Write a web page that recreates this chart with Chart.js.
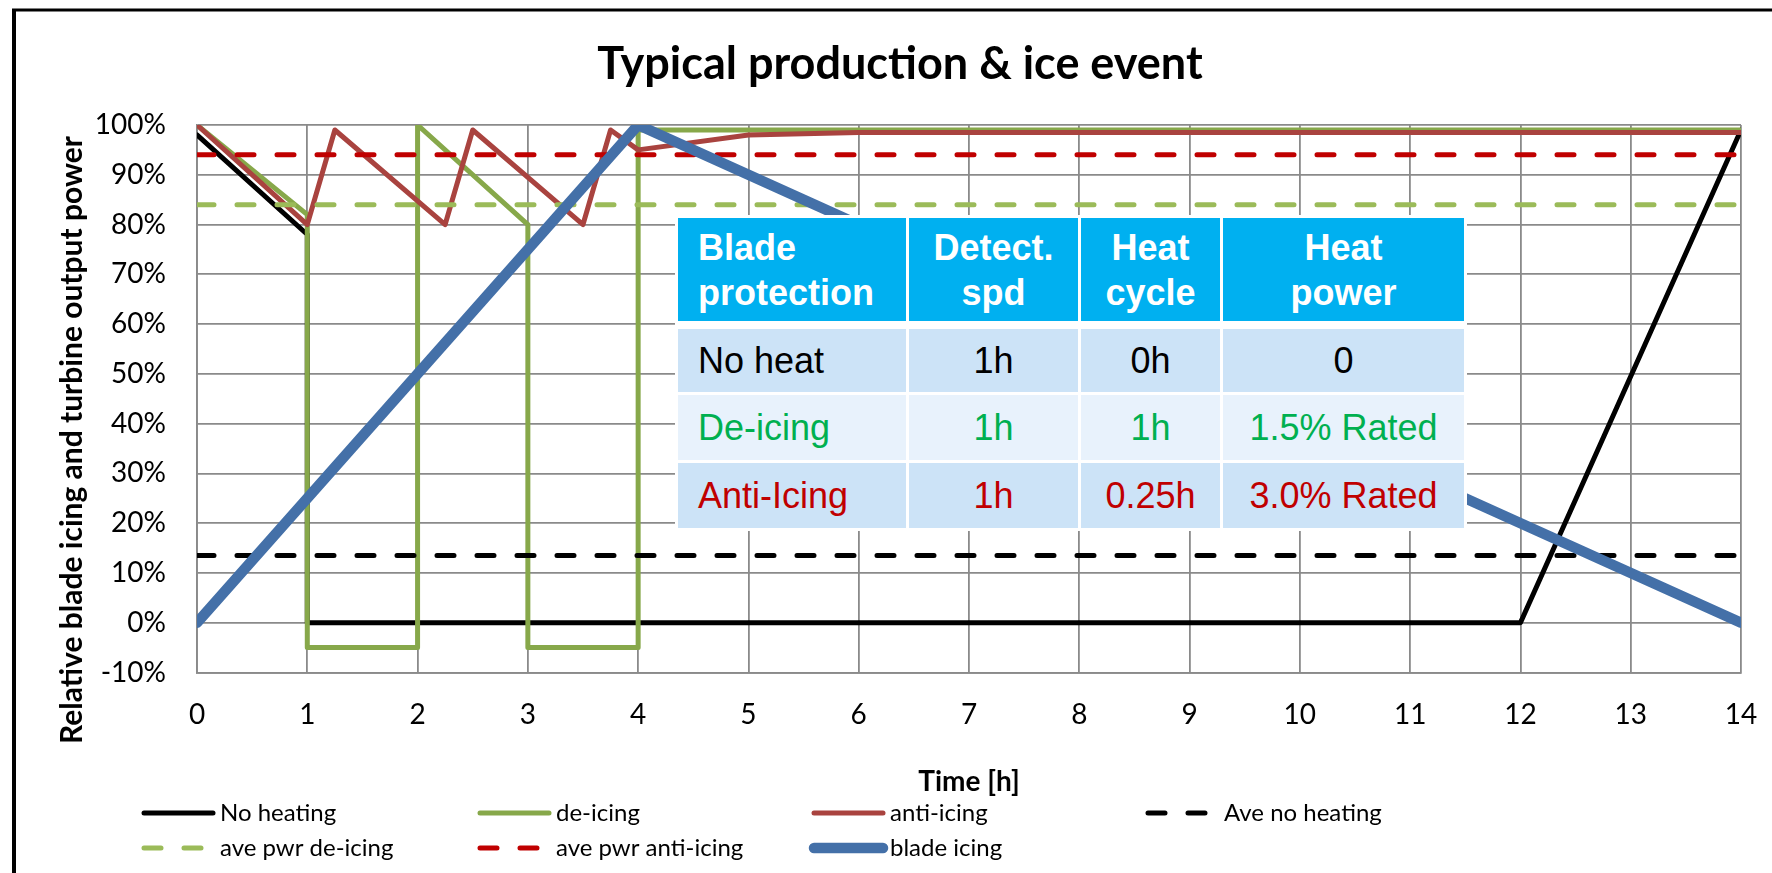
<!DOCTYPE html>
<html>
<head>
<meta charset="utf-8">
<title>Typical production &amp; ice event</title>
<script src="https://cdn.jsdelivr.net/npm/chart.js@4.4.1/dist/chart.umd.min.js"></script>
<style>
  html, body { margin: 0; padding: 0; background: #fff; }
  #wrap { position: relative; width: 1772px; height: 873px; }
  #chart { display: block; }
  .heat-table {
    position: absolute; left: 675px; top: 215px;
    border-collapse: separate; border-spacing: 3px;
    background: #fff;
    font-family: "Liberation Sans", Arial, sans-serif; font-size: 36px;
  }
  .heat-table td { padding: 0; text-align: center; vertical-align: middle; box-sizing: border-box; }
  .heat-table td.first { text-align: left; padding-left: 20px; }
  .heat-table tr.head td { background: #00b0f0; color: #fff; font-weight: bold; height: 103px; line-height: 45px; }
  .heat-table tr.gap td { height: 2px; background: #fff; }
  .heat-table tr.dark td { background: #cce3f7; height: 63px; }
  .heat-table tr.light td { background: #e8f2fc; height: 65px; }
  .heat-table tr.last td { height: 65px; }
  .green { color: #00b050; }
  .red { color: #c00000; }
</style>
</head>
<body>
<div id="wrap">
  <canvas id="chart" width="1772" height="873"></canvas>
  <table class="heat-table">
    <tr class="head">
      <td class="first" style="width:228px">Blade<br>protection</td>
      <td style="width:169px">Detect.<br>spd</td>
      <td style="width:139px">Heat<br>cycle</td>
      <td style="width:241px">Heat<br>power</td>
    </tr>
    <tr class="gap"><td></td><td></td><td></td><td></td></tr>
    <tr class="dark">
      <td class="first">No heat</td><td>1h</td><td>0h</td><td>0</td>
    </tr>
    <tr class="light green">
      <td class="first">De-icing</td><td>1h</td><td>1h</td><td>1.5% Rated</td>
    </tr>
    <tr class="dark last red">
      <td class="first">Anti-Icing</td><td>1h</td><td>0.25h</td><td>3.0% Rated</td>
    </tr>
  </table>
</div>
<script>
// hours / percent values
const noHeatingX = [0, 1, 1, 12, 14];
const noHeatingY = [98, 78, 0, 0, 99];
const deIcingX = [0, 1, 1, 2, 2, 3, 3, 4, 4, 14];
const deIcingY = [100, 82, -5, -5, 100, 80, -5, -5, 99, 99];
const antiIcingX = [0, 1, 1.25, 2.25, 2.5, 3.5, 3.75, 4, 5, 6, 14];
const antiIcingY = [100, 80, 99, 80, 99, 80, 99, 95, 98, 98.5, 98.5];
const aveX = [0, 14];
const aveNoHeatingY = [13.5, 13.5];
const avePwrDeIcingY = [84, 84];
const avePwrAntiIcingY = [94, 94];
const bladeIcingX = [0, 4, 14];
const bladeIcingY = [0, 100, 0];

const seriesLabels = ['No heating', 'de-icing', 'anti-icing', 'Ave no heating',
                      'ave pwr de-icing', 'ave pwr anti-icing', 'blade icing'];

const FONT = 'Lato, "Open Sans", sans-serif';
const GRID = '#8a8a8a';

function pts(xs, ys) {
    return xs.map((x, i) => ({ x: x, y: ys[i] }));
}

function solid(label, xs, ys, color, width) {
    return {
        label: label, data: pts(xs, ys),
        borderColor: color, backgroundColor: color, borderWidth: width,
        borderJoinStyle: 'round', borderCapStyle: 'round',
        pointRadius: 0, tension: 0, fill: false
    };
}

function dashed(label, ys, color) {
    const ds = solid(label, aveX, ys, color, 5);
    ds.borderDash = [17, 23];
    return ds;
}

const datasets = [
    solid(seriesLabels[0], noHeatingX, noHeatingY, '#000000', 5),
    solid(seriesLabels[1], deIcingX, deIcingY, '#87a84a', 5),
    solid(seriesLabels[2], antiIcingX, antiIcingY, '#a9433f', 5),
    dashed(seriesLabels[3], aveNoHeatingY, '#000000'),
    dashed(seriesLabels[4], avePwrDeIcingY, '#9bbb59'),
    dashed(seriesLabels[5], avePwrAntiIcingY, '#c00000'),
    solid(seriesLabels[6], bladeIcingX, bladeIcingY, '#4470a8', 10.5)
];
// later series on top, like the original
datasets.forEach((ds, i) => { ds.order = datasets.length - i; });
datasets[6].clip = 0;

const framePlugin = {
    id: 'frame',
    beforeDraw(chart) {
        const ctx = chart.ctx;
        ctx.save();
        ctx.fillStyle = '#fff';
        ctx.fillRect(0, 0, chart.width, chart.height);
        ctx.strokeStyle = '#000';
        ctx.lineWidth = 3;
        ctx.beginPath();
        ctx.moveTo(12, 10);
        ctx.lineTo(chart.width, 10);
        ctx.stroke();
        ctx.lineWidth = 4;
        ctx.beginPath();
        ctx.moveTo(14, 9);
        ctx.lineTo(14, chart.height);
        ctx.stroke();
        ctx.restore();
    }
};

const yTitlePlugin = {
    id: 'yTitle',
    afterDraw(chart) {
        const ctx = chart.ctx;
        ctx.save();
        ctx.translate(72, 440);
        ctx.rotate(-Math.PI / 2);
        ctx.font = 'bold 30px ' + FONT;
        ctx.fillStyle = '#000';
        ctx.textAlign = 'center';
        ctx.textBaseline = 'middle';
        ctx.fillText('Relative blade icing and turbine output power', 0, 0);
        ctx.restore();
    }
};

const legendCols = [141, 477, 811, 1145];
const legendRows = [813, 848];

const gridLegendPlugin = {
    id: 'gridLegend',
    afterDraw(chart) {
        const ctx = chart.ctx;
        ctx.save();
        ctx.font = '24px ' + FONT;
        ctx.textBaseline = 'middle';
        ctx.textAlign = 'left';
        chart.data.datasets.forEach((ds, i) => {
            const x = legendCols[i % 4];
            const y = legendRows[Math.floor(i / 4)];
            ctx.strokeStyle = ds.borderColor;
            ctx.lineWidth = ds.borderWidth;
            ctx.lineCap = 'round';
            ctx.setLineDash(ds.borderDash || []);
            ctx.beginPath();
            ctx.moveTo(x + 3, y);
            ctx.lineTo(x + 72, y);
            ctx.stroke();
            ctx.setLineDash([]);
            ctx.fillStyle = '#000';
            ctx.fillText(ds.label, x + 79, y);
        });
        ctx.restore();
    }
};

const ctx = document.getElementById('chart').getContext('2d');
new Chart(ctx, {
    type: 'line',
    data: { datasets: datasets },
    options: {
        responsive: false,
        animation: false,
        layout: { padding: { left: 59, right: 31, top: 0, bottom: 74 } },
        plugins: {
            legend: { display: false },
            tooltip: { enabled: false },
            title: {
                display: true,
                text: 'Typical production & ice event',
                color: '#000',
                font: { family: FONT, size: 45, weight: 'bold' },
                padding: { top: 37, bottom: 34 }
            }
        },
        scales: {
            x: {
                type: 'linear', min: 0, max: 14,
                ticks: { stepSize: 1, color: '#000', padding: 26, font: { family: FONT, size: 28 } },
                grid: { color: GRID, lineWidth: 1.8, drawTicks: false },
                border: { color: GRID, width: 1.8 },
                title: {
                    display: true, text: 'Time [h]', color: '#000',
                    font: { family: FONT, size: 28, weight: 'bold' },
                    padding: { top: 0, bottom: 0 }
                },
                afterFit(scale) {
                    scale.height = 126.5;
                    scale.paddingLeft = 0;
                    scale.paddingRight = 0;
                }
            },
            y: {
                min: -10, max: 100,
                ticks: {
                    stepSize: 10, color: '#000', padding: 31,
                    font: { family: FONT, size: 28 },
                    callback: v => v + '%'
                },
                grid: { color: GRID, lineWidth: 1.8, drawTicks: false },
                border: { color: GRID, width: 1.8 },
                afterFit(scale) { scale.width = 138; }
            }
        }
    },
    plugins: [framePlugin, yTitlePlugin, gridLegendPlugin]
});
</script>
</body>
</html>
